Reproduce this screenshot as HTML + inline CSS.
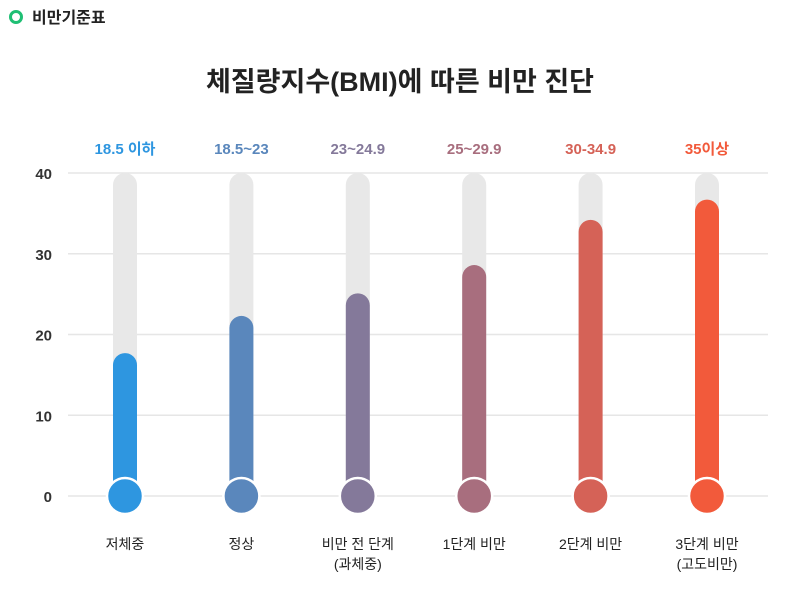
<!DOCTYPE html>
<html><head><meta charset="utf-8"><style>
body{margin:0;background:#fff;width:800px;height:600px;overflow:hidden;font-family:"Liberation Sans","Noto Sans CJK KR",sans-serif;}
svg text{font-family:"Liberation Sans","Noto Sans CJK KR",sans-serif;}
</style></head><body>
<svg id="chart" width="800" height="600">
<circle cx="16" cy="17" r="5.5" fill="none" stroke="#1fbf74" stroke-width="3"/>
<text x="32" y="23" font-size="16" font-weight="bold" fill="#222">비만기준표</text>
<text x="400" y="91" font-size="27" font-weight="bold" fill="#222" text-anchor="middle">체질량지수(BMI)에 따른 비만 진단</text>
<g id="grid"></g><g id="bars"></g>
</svg>
<script>
const categories=["저체중","정상","비만 전 단계|(과체중)","1단계 비만","2단계 비만","3단계 비만|(고도비만)"];
const ranges=["18.5 이하","18.5~23","23~24.9","25~29.9","30-34.9","35이상"];
const values=[17.7,22.3,25.1,28.6,34.2,36.7];
const ticks=[0,10,20,30,40];
const colors=["#2e96e0","#5a87bc","#84799a","#a86e7e","#d56257","#f25a3b"];
const NS="http://www.w3.org/2000/svg";
const y=v=>496-v*8.075;
const x=i=>125+i*116.4;
function mk(t,a,p){const e=document.createElementNS(NS,t);for(const k in a)e.setAttribute(k,a[k]);p.appendChild(e);return e;}
const g=document.getElementById('grid'),b=document.getElementById('bars');
ticks.forEach(t=>{
 const l=mk('line',{x1:68,x2:768,y1:y(t),y2:y(t),stroke:'#e6e6e6','stroke-width':1.5},g);
 
 
 const tx=mk('text',{x:52,y:y(t)+6,'font-size':15,'font-weight':'bold',fill:'#333','text-anchor':'end'},g);
 tx.textContent=t;
 
 
});
values.forEach((v,i)=>{
 const cx=x(i),c=colors[i];
 const bg=mk('line',{x1:cx,x2:cx,y1:y(40)+12,y2:y(0),stroke:'#e8e8e8','stroke-width':24,'stroke-linecap':'round'},b);
 
 
 const f=mk('line',{x1:cx,x2:cx,y1:y(v)+12,y2:y(0),stroke:c,'stroke-width':24,'stroke-linecap':'round'},b);
 
 
 const bl=mk('circle',{cx:cx,cy:y(0),r:18,fill:c,stroke:'#fff','stroke-width':2.5},b);
 
 
 const rl=mk('text',{x:cx,y:154,'font-size':15,'font-weight':'bold',fill:c,'text-anchor':'middle'},b);
 rl.textContent=ranges[i];
 
 
 categories[i].split('|').forEach((s,k)=>{
  const ct=mk('text',{x:cx,y:549+k*20,'font-size':14,fill:'#222','text-anchor':'middle'},b);
  ct.textContent=s;
  
  
 });
});
</script>
</body></html>
